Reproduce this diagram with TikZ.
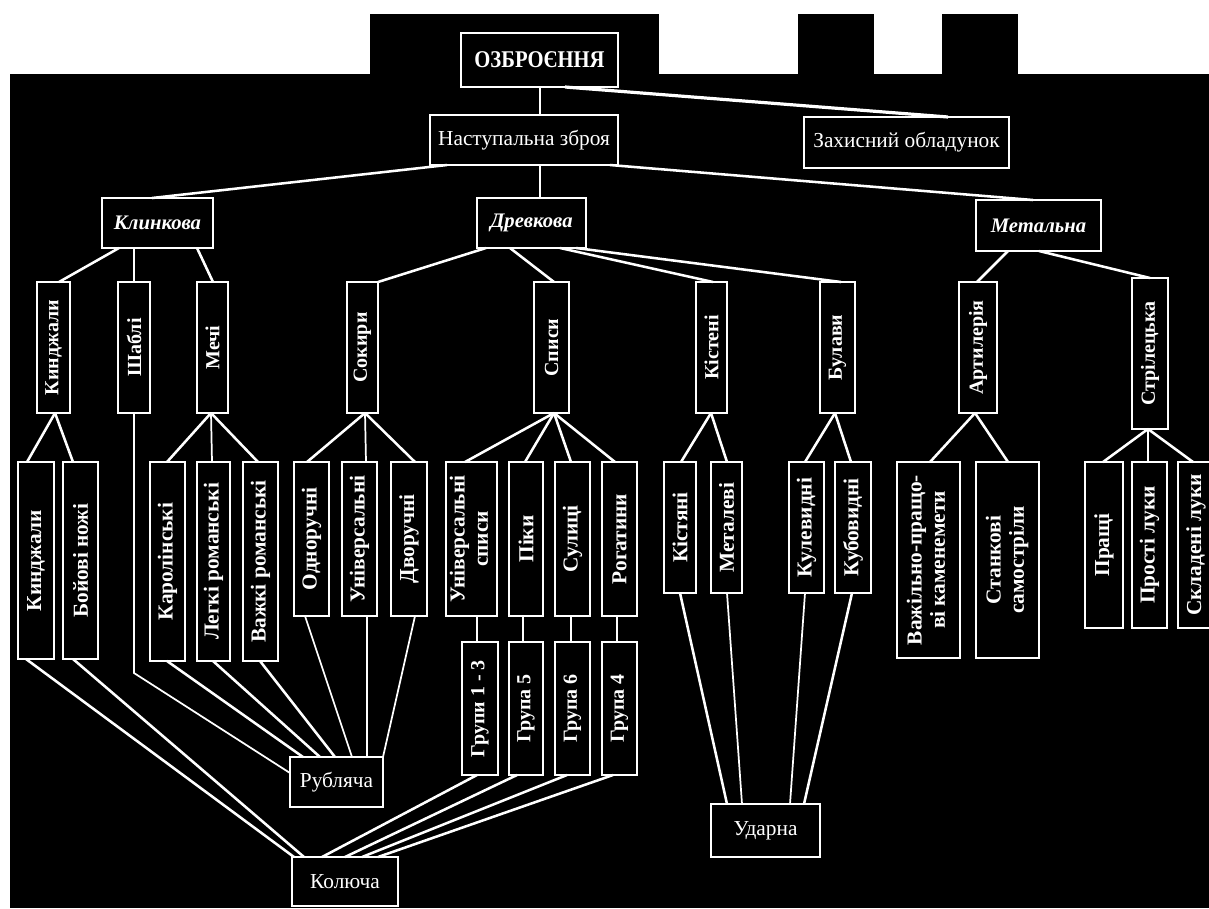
\documentclass[tikz,border=0pt]{standalone}
\usepackage{fontspec}
\setmainfont{Liberation Serif}
\usetikzlibrary{calc}
\newcommand\bx[7][]{%
  \pgfmathsetmacro\bxw{(#5-#3)*0.75}%
  \pgfmathsetmacro\bxh{(#6-#4)*0.75}%
  \node[box,minimum width=\bxw pt,minimum height=\bxh pt,#1] (#2) at ({(#3+#5)/2},{(#4+#6)/2}) {#7};}
\newcommand\vt[1]{\rotatebox{90}{#1}}
\newcommand\vtt[2]{\rotatebox{90}{\begin{tabular}{@{}c@{}}#1\\#2\end{tabular}}}
\begin{document}
\begin{tikzpicture}[x=0.75pt,y=-0.75pt,
  box/.style={draw=white,line width=2pt,fill=black,text=white,inner sep=0pt,outer sep=0pt},
  ttop/.style={font=\bfseries\fontsize{18}{20}\selectfont},
  treg/.style={font=\fontsize{16}{18}\selectfont},
  tlevtwo/.style={font=\bfseries\itshape\fontsize{15.5}{18}\selectfont},
  tvthree/.style={font=\bfseries\fontsize{15}{17}\selectfont},
  tvfour/.style={font=\bfseries\fontsize{16}{17.5}\selectfont},
  tgr/.style={font=\bfseries\fontsize{15}{17}\selectfont},
  ln/.style={draw=white,line width=1.9pt},
  lnthin/.style={draw=white,line width=1.3pt}]
\useasboundingbox (0,0) rectangle (1209,908);
\fill[white] (0,0) rectangle (1209,908);
\fill[black] (10,74) rectangle (1209,908);
\fill[black] (370,14) rectangle (659,74);
\fill[black] (798,14) rectangle (874,74);
\fill[black] (942,14) rectangle (1018,74);

% top levels
\bx[ttop]{ozb}{461}{33}{618}{87}{\scalebox{0.86}[1]{ОЗБРОЄННЯ}}
\bx[treg]{nast}{430}{115}{618}{165}{Наступальна зброя}
\bx[treg]{zakh}{804}{117}{1009}{168}{Захисний обладунок}
\bx[tlevtwo]{klyn}{102}{198}{213}{248}{Клинкова}
\bx[tlevtwo]{drev}{477}{198}{586}{248}{Древкова}
\bx[tlevtwo]{metal}{976}{200}{1101}{251}{Метальна}

% level 3
\bx[tvthree]{kindt}{37}{282}{70}{413}{\vt{Кинджали}}
\bx[tvthree]{shab}{118}{282}{150}{413}{\vt{Шаблі}}
\bx[tvthree]{mech}{197}{282}{228}{413}{\vt{Мечі}}
\bx[tvthree]{sok}{347}{282}{378}{413}{\vt{Сокири}}
\bx[tvthree]{spys}{534}{282}{569}{413}{\vt{Списи}}
\bx[tvthree]{kistt}{696}{282}{727}{413}{\vt{Кістені}}
\bx[tvthree]{bul}{820}{282}{855}{413}{\vt{Булави}}
\bx[tvthree]{art}{959}{282}{997}{413}{\vt{Артилерія}}
\bx[tvthree]{stril}{1132}{278}{1168}{429}{\vt{Стрілецька}}

% level 4
\bx[tvfour]{kindf}{18}{462}{54}{659}{\vt{Кинджали}}
\bx[tvfour]{boy}{63}{462}{98}{659}{\vt{Бойові ножі}}
\bx[tvfour]{karo}{150}{462}{185}{661}{\vt{Каролінські}}
\bx[tvfour]{lehk}{197}{462}{230}{661}{\vt{Легкі романські}}
\bx[tvfour]{vazh}{243}{462}{278}{661}{\vt{Важкі романські}}
\bx[tvfour]{odno}{294}{462}{329}{616}{\vt{Одноручні}}
\bx[tvfour]{univ}{342}{462}{377}{616}{\vt{Універсальні}}
\bx[tvfour]{dvor}{391}{462}{427}{616}{\vt{Дворучні}}
\bx[tvfour]{unsp}{446}{462}{497}{616}{\vtt{Універсальні}{списи}}
\bx[tvfour]{pik}{509}{462}{543}{616}{\vt{Піки}}
\bx[tvfour]{sul}{555}{462}{590}{616}{\vt{Сулиці}}
\bx[tvfour]{rog}{602}{462}{637}{616}{\vt{Рогатини}}
\bx[tvfour]{kistya}{664}{462}{696}{593}{\vt{Кістяні}}
\bx[tvfour]{metv}{711}{462}{742}{593}{\vt{Металеві}}
\bx[tvfour]{kul}{789}{462}{824}{593}{\vt{Кулевидні}}
\bx[tvfour]{kub}{835}{462}{871}{593}{\vt{Кубовидні}}
\bx[tvfour]{vazhil}{897}{462}{960}{658}{\vtt{Важільно-пращо-}{ві каменемети}}
\bx[tvfour]{stank}{976}{462}{1039}{658}{\vtt{Станкові}{самостріли}}
\bx[tvfour]{prash}{1085}{462}{1123}{628}{\vt{Пращі}}
\bx[tvfour]{prost}{1132}{462}{1167}{628}{\vt{Прості луки}}
\bx[tvfour]{sklad}{1178}{462}{1214}{628}{\vt{Складені луки}}

% groups
\bx[tgr]{gone}{462}{642}{498}{775}{\vt{Групи 1 - 3}}
\bx[tgr]{gfive}{509}{642}{543}{775}{\vt{Група 5}}
\bx[tgr]{gsix}{555}{642}{590}{775}{\vt{Група 6}}
\bx[tgr]{gfour}{602}{642}{637}{775}{\vt{Група 4}}

% bottom
\bx[treg]{rub}{290}{757}{383}{807}{Рубляча}
\bx[treg]{kol}{292}{857}{398}{906}{Колюча}
\bx[treg]{udar}{711}{804}{820}{857}{Ударна}

% connectors top
\draw[ln] (ozb.south -| 540,0) -- (nast.north -| 540,0);
\draw[ln,line width=2.4pt] (ozb.south -| 565,0) -- (zakh.north -| 948,0);
\draw[ln] (nast.south -| 447,0) -- (klyn.north -| 152,0);
\draw[ln] (nast.south -| 540,0) -- (drev.north -| 540,0);
\draw[ln] (nast.south -| 610,0) -- (metal.north -| 1033,0);
\draw[ln] (klyn.south -| 119,0) -- (kindt.north -| 59,0);
\draw[lnthin] (klyn.south -| 134,0) -- (shab.north -| 134,0);
\draw[ln] (klyn.south -| 197,0) -- (mech.north -| 213,0);
\draw[ln] (drev.south -| 486,0) -- (sok.north -| 378,0);
\draw[ln] (drev.south -| 510,0) -- (spys.north -| 554,0);
\draw[ln] (drev.south -| 560,0) -- (kistt.north -| 713,0);
\draw[ln] (drev.south -| 576,0) -- (bul.north -| 841,0);
\draw[ln] (metal.south -| 1008,0) -- (art.north -| 977,0);
\draw[ln] (metal.south -| 1039,0) -- (stril.north -| 1150,0);

% level 3 -> level 4
\draw[ln] (kindt.south -| 55,0) -- (kindf.north -| 27,0);
\draw[ln] (kindt.south -| 55,0) -- (boy.north -| 73,0);
\draw[ln] (mech.south -| 211,0) -- (karo.north -| 167,0);
\draw[lnthin] (mech.south -| 211,0) -- (lehk.north -| 212,0);
\draw[ln] (mech.south -| 211,0) -- (vazh.north -| 258,0);
\draw[ln] (sok.south -| 365,0) -- (odno.north -| 307,0);
\draw[lnthin] (sok.south -| 365,0) -- (univ.north -| 366,0);
\draw[ln] (sok.south -| 365,0) -- (dvor.north -| 415,0);
\draw[ln] (spys.south -| 554,0) -- (unsp.north -| 465,0);
\draw[ln] (spys.south -| 554,0) -- (pik.north -| 525,0);
\draw[ln] (spys.south -| 554,0) -- (sul.north -| 571,0);
\draw[ln] (spys.south -| 554,0) -- (rog.north -| 615,0);
\draw[ln] (kistt.south -| 711,0) -- (kistya.north -| 681,0);
\draw[ln] (kistt.south -| 711,0) -- (metv.north -| 727,0);
\draw[ln] (bul.south -| 835,0) -- (kul.north -| 805,0);
\draw[ln] (bul.south -| 835,0) -- (kub.north -| 851,0);
\draw[ln] (art.south -| 975,0) -- (vazhil.north -| 930,0);
\draw[ln] (art.south -| 975,0) -- (stank.north -| 1008,0);
\draw[ln] (stril.south -| 1148,0) -- (prash.north -| 1103,0);
\draw[lnthin] (stril.south -| 1148,0) -- (prost.north -| 1148,0);
\draw[ln] (stril.south -| 1148,0) -- (sklad.north -| 1193,0);

% spears -> groups
\draw[lnthin] (unsp.south -| 477,0) -- (gone.north -| 477,0);
\draw[lnthin] (pik.south -| 523,0) -- (gfive.north -| 523,0);
\draw[lnthin] (sul.south -| 571,0) -- (gsix.north -| 571,0);
\draw[lnthin] (rog.south -| 617,0) -- (gfour.north -| 617,0);

% -> Рубляча
\draw[lnthin] (shab.south -| 134,0) -- (shab.south |- 0,673) -- (rub.west |- 0,773);
\draw[ln] (karo.south -| 167,0) -- (rub.north -| 303,0);
\draw[ln] (lehk.south -| 213,0) -- (rub.north -| 320,0);
\draw[ln] (vazh.south -| 260,0) -- (rub.north -| 335,0);
\draw[lnthin] (odno.south -| 305,0) -- (rub.north -| 352,0);
\draw[lnthin] (univ.south -| 367,0) -- (rub.north -| 367,0);
\draw[lnthin] (dvor.south -| 415,0) -- (rub.north -| 383,0);

% -> Колюча
\draw[ln] (kindf.south -| 26,0) -- (kol.north -| 294,0);
\draw[ln] (boy.south -| 73,0) -- (kol.north -| 304,0);
\draw[ln] (gone.south -| 477,0) -- (kol.north -| 322,0);
\draw[ln] (gfive.south -| 517,0) -- (kol.north -| 345,0);
\draw[ln] (gsix.south -| 567,0) -- (kol.north -| 362,0);
\draw[ln] (gfour.south -| 613,0) -- (kol.north -| 378,0);

% -> Ударна
\draw[ln] (kistya.south -| 680,0) -- (udar.north -| 727,0);
\draw[lnthin] (metv.south -| 727,0) -- (udar.north -| 742,0);
\draw[lnthin] (kul.south -| 805,0) -- (udar.north -| 790,0);
\draw[ln] (kub.south -| 852,0) -- (udar.north -| 804,0);
\end{tikzpicture}
\end{document}
